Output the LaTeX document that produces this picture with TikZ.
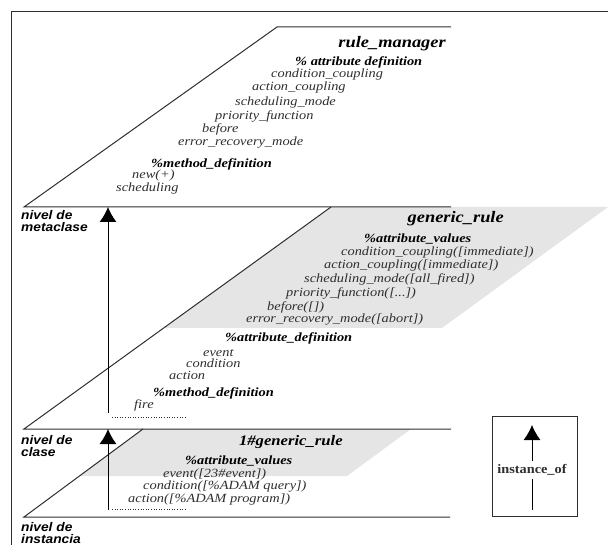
\documentclass[tikz,border=0pt]{standalone}
\usepackage{fontspec}
\setmainfont{Liberation Serif}
\newfontfamily\lsans{Liberation Sans}
\usetikzlibrary{arrows.meta}
\definecolor{planegray}{HTML}{E5E5E5}
\definecolor{inkgray}{HTML}{2E2E2E}
\begin{document}
\begin{tikzpicture}[x=1pt,y=-1pt,
  frame/.style={draw=inkgray, line width=0.9pt},
  plane/.style={draw=inkgray, line width=1pt},
  item/.style={anchor=base west, inner sep=0pt, xscale=1.15, text=inkgray,
    font=\fontsize{12.5}{13}\selectfont\itshape},
  head/.style={anchor=base west, inner sep=0pt, xscale=1.15, text=black,
    font=\fontsize{12.5}{13}\selectfont\bfseries\itshape},
  title/.style={anchor=base east, inner sep=0pt, xscale=1.15, text=black,
    font=\fontsize{16}{18}\selectfont\bfseries\itshape},
  level/.style={anchor=base west, inner sep=0pt, xscale=1.1, align=left, text=black,
    font=\fontsize{12.5}{12}\selectfont\lsans\bfseries\itshape},
  uparrow/.style={draw=black, line width=1pt, -{Latex[length=15pt,width=17pt]}},
  dots/.style={draw=inkgray, line width=0.6pt, dotted},
]
\useasboundingbox (0,0) rectangle (608,545);

% outer frame
\coordinate (fbl) at (11,545);
\coordinate (ftl) at (11,11);
\coordinate (ftr) at (608,11);
\draw[frame] (fbl) -- (ftl) -- (ftr);

% plane corners
\coordinate (p1tl) at (277,27);
\coordinate (p1tr) at (451,27);
\coordinate (p1bl) at (24,207);
\coordinate (p1br) at (451,207);
\coordinate (p2tl) at (331,207);
\coordinate (p2gtr) at (608,207);
\coordinate (p2gbr) at (442,328);
\coordinate (p2gbl) at (163.7,328);
\coordinate (p2bl) at (24,429);
\coordinate (p2br) at (451,429);
\coordinate (p3tl) at (143,429);
\coordinate (p3gtr) at (411,429);
\coordinate (p3gbr) at (347,476);
\coordinate (p3gbl) at (79.4,476);
\coordinate (p3bl) at (24,517);
\coordinate (p3br) at (450,517);

% shaded value areas
\fill[planegray] (p2tl) -- (p2gtr) -- (p2gbr) -- (p2gbl) -- cycle;
\fill[planegray] (p3tl) -- (p3gtr) -- (p3gbr) -- (p3gbl) -- cycle;

% metaclass plane
\draw[plane] (p1tr) -- (p1tl) -- (p1bl) -- (p1br);
% class plane
\draw[plane] (p2tl) -- (p2bl) -- (p2br);
% instance plane
\draw[plane] (p3tl) -- (p3bl) -- (p3br);

% rule_manager
\node[title] (rm) at (446,48) {rule\_manager};
\node[head] (rm1) at (295,66) {\% attribute definition};
\node[item] (rm2) at (271,78) {condition\_coupling};
\node[item] (rm3) at (252,91) {action\_coupling};
\node[item] (rm4) at (235,106) {scheduling\_mode};
\node[item] (rm5) at (215,120) {priority\_function};
\node[item] (rm6) at (202,133) {before};
\node[item] (rm7) at (178,146) {error\_recovery\_mode};
\node[head] (rm8) at (151,168) {\%method\_definition};
\node[item] (rm9) at (132,179) {new(+)};
\node[item] (rm10) at (116,192) {scheduling};

% generic_rule
\node[title] (gr) at (504,223) {generic\_rule};
\node[head] (gr1) at (364,243) {\%attribute\_values};
\node[item] (gr2) at (341,256) {condition\_coupling([immediate])};
\node[item] (gr3) at (324,269) {action\_coupling([immediate])};
\node[item] (gr4) at (304,283) {scheduling\_mode([all\_fired])};
\node[item] (gr5) at (286,297) {priority\_function([...])};
\node[item] (gr6) at (267,311) {before([])};
\node[item] (gr7) at (246,323) {error\_recovery\_mode([abort])};
\node[head] (gr8) at (225,342) {\%attribute\_definition};
\node[item] (gr9) at (203,356) {event};
\node[item] (gr10) at (186,367) {condition};
\node[item] (gr11) at (169,380) {action};
\node[head] (gr12) at (153,396) {\%method\_definition};
\node[item] (gr13) at (134,408) {fire};

% 1#generic_rule
\node[title, font=\fontsize{14.5}{16}\selectfont\bfseries\itshape] (ir) at (343,445) {1\#generic\_rule};
\node[head] (ir1) at (185,464) {\%attribute\_values};
\node[item] (ir2) at (163,477) {event([23\#event])};
\node[item] (ir3) at (143,489) {condition([\%ADAM query])};
\node[item] (ir4) at (128,502) {action([\%ADAM program])};

% level labels (anchored on the last line)
\node[level] (lm) at (21,232) {nivel de\\metaclase};
\node[level] (lc) at (21,456) {nivel de\\clase};
\node[level] (li) at (21,543) {nivel de\\instancia};

% instance_of arrows between levels
\coordinate (a1s) at (108,413);
\coordinate (a1e) at (108,207);
\coordinate (a2s) at (108,510);
\coordinate (a2e) at (108,429);
\draw[uparrow] (a1s) -- (a1e);
\draw[uparrow] (a2s) -- (a2e);

% elided continuation marks
\coordinate (d1a) at (112,417);
\coordinate (d1b) at (185,417);
\coordinate (d2a) at (112,509);
\coordinate (d2b) at (185,509);
\draw[dots] (d1a) -- (d1b);
\draw[dots] (d2a) -- (d2b);

% legend
\node[draw=inkgray, line width=1pt, minimum width=85pt, minimum height=100pt, inner sep=0pt] (leg) at (534.5,466) {};
\node[inner sep=0pt, inner ysep=3pt, xscale=1.1, font=\fontsize{13}{14}\selectfont\bfseries, text=inkgray] (io) at (532,470) {instance\_of};
\coordinate (ls) at (532,510);
\coordinate (le) at (532,425);
\draw[draw=black, line width=1pt] (ls) -- (io.south);
\draw[uparrow] (io.north) -- (le);
\end{tikzpicture}
\end{document}
